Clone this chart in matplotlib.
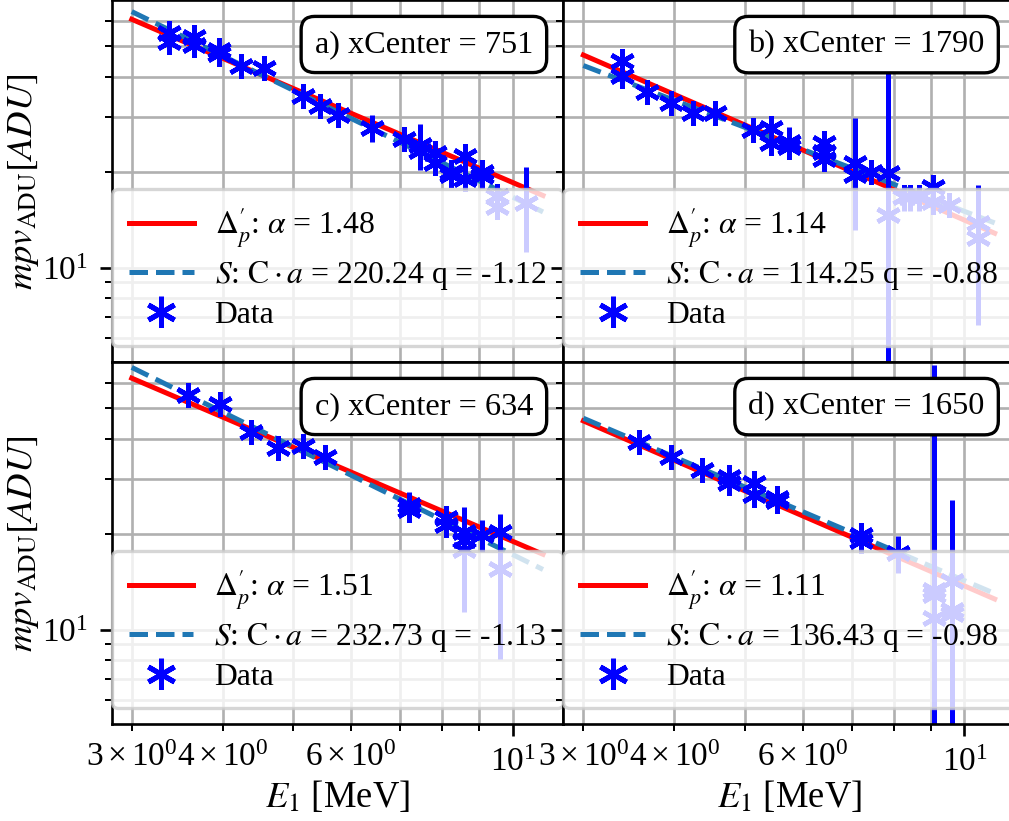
import matplotlib
matplotlib.use("Agg")
import matplotlib.pyplot as plt

plt.rcParams.update({
    "font.family": "serif",
    "font.serif": ["Liberation Serif", "DejaVu Serif"],
    "mathtext.fontset": "stix",
    "font.size": 10,
})

# ---------------- data ----------------
panel_titles = ["a) xCenter = 751", "b) xCenter = 1790", "c) xCenter = 634", "d) xCenter = 1650"]

alpha_labels = ["1.48", "1.14", "1.51", "1.11"]
ca_labels = ["220.24", "114.25", "232.73", "136.43"]
q_labels = ["-1.12", "-0.88", "-1.13", "-0.98"]

fit_x = [3.0, 11.0]
delta_a = [60.8, 16.9]
delta_b = [46.9, 12.85]
delta_c = [62.2, 17.3]
delta_d = [45.6, 12.5]
s_a = [64.3, 15.0]
s_b = [43.45, 13.85]
s_c = [67.25, 15.49]
s_d = [46.49, 13.01]

xa = [3.37, 3.37, 3.65, 3.65, 3.95, 3.95, 4.24, 4.55, 5.15, 5.44, 5.76, 6.40, 7.10, 7.46, 7.46,
      7.82, 7.82, 8.23, 8.23, 8.61, 8.61, 9.06, 9.06, 9.50, 9.50, 10.43]
ya = [54.9, 51.6, 53.5, 50.4, 48.6, 47.1, 43.3, 42.8, 34.8, 32.4, 30.3, 27.6, 25.4, 24.4, 23.3,
      23.0, 21.4, 20.1, 19.6, 22.5, 19.1, 20.0, 19.5, 16.8, 15.6, 16.0]
ea = [0.6, 0.6, 0.6, 0.6, 0.6, 0.6, 0.5, 0.5, 0.5, 0.5, 0.5, 2.7, 0.4, 4.0, 0.5,
      0.5, 0.4, 0.4, 0.4, 0.4, 0.4, 0.4, 0.4, 0.4, 0.4, 4.8]

xb = [3.39, 3.39, 3.67, 3.96, 4.24, 4.54, 5.12, 5.43, 5.43, 5.75, 5.75, 6.41, 6.41, 6.41, 7.08,
      7.08, 7.45, 7.85, 7.85, 8.25, 8.42, 8.65, 9.05, 9.05, 9.51, 10.43, 10.43]
yb = [44.9, 40.2, 35.9, 33.0, 30.7, 30.7, 27.2, 27.5, 24.8, 25.0, 24.1, 24.7, 23.2, 22.1, 21.4,
      19.6, 20.1, 19.9, 14.7, 16.7, 16.7, 16.7, 18.0, 16.1, 15.8, 13.8, 12.4]
eb = [0.6, 0.6, 0.6, 0.5, 0.5, 0.5, 0.5, 0.5, 0.5, 2.9, 0.5, 0.5, 2.8, 0.5, 8.2,
      0.5, 0.5, 25.0, 0.5, 1.6, 1.6, 1.6, 1.0, 0.5, 0.5, 0.5, 5.8]

xc = [3.58, 3.96, 4.37, 4.76, 5.15, 5.53, 7.20, 7.20, 8.10, 8.10, 8.58, 8.58, 8.58, 9.08, 9.60, 9.60]
yc = [55.1, 51.5, 42.2, 37.4, 37.9, 35.0, 24.8, 23.9, 22.5, 21.4, 20.4, 19.2, 17.9, 19.9, 20.4, 15.5]
ec = [0.6, 0.6, 0.5, 0.5, 0.5, 0.5, 2.4, 0.5, 0.5, 0.5, 0.5, 0.5, 6.5, 2.3, 2.8, 7.4]

xd = [3.58, 3.96, 4.36, 4.75, 4.75, 5.15, 5.15, 5.53, 5.53, 7.20, 7.20, 8.10, 9.09, 9.09, 9.09,
      9.61, 9.61, 9.61]
yd = [39.1, 35.0, 32.0, 30.4, 29.0, 29.0, 26.7, 26.0, 25.4, 19.9, 19.0, 17.4, 13.3, 12.9, 10.9,
      14.2, 11.5, 11.2]
ed = [0.5, 0.5, 0.5, 0.5, 0.5, 0.5, 0.5, 0.5, 0.5, 0.5, 0.5, 2.3, 55.0, 0.5, 0.5,
      0.5, 14.2, 0.5]

data = [(xa, ya, ea, delta_a, s_a), (xb, yb, eb, delta_b, s_b),
        (xc, yc, ec, delta_c, s_c), (xd, yd, ed, delta_d, s_d)]

# ---------------- figure ----------------
W, H, DPI = 1009, 821, 240
fig, axes = plt.subplots(2, 2, sharex=True, sharey=True, figsize=(W / DPI, H / DPI), dpi=DPI)
fig.subplots_adjust(left=111.7 / W, right=1015 / W, top=1 - 0.3 / H, bottom=1 - 724.3 / H,
                    wspace=0, hspace=0)

for i, ax in enumerate(axes.flat):
    x, y, e, dl, sl = data[i]
    ax.set_xscale("log")
    ax.set_yscale("log")
    l1, = ax.plot(fit_x, dl, color="red", lw=1.5)
    l2, = ax.plot(fit_x, sl, color="#1f77b4", ls="--", lw=1.5)
    ax.errorbar(x, y, yerr=e, fmt="none", ecolor="blue", elinewidth=1.5)
    ax.plot(x, y, ls="none", marker=(6, 2, 0), ms=7.5, mew=1.4, color="blue")
    data_handle = ax.errorbar([float("nan")], [float("nan")], yerr=[0.0], ls="none",
                              marker=(6, 2, 0), ms=9, mew=1.5, color="blue", elinewidth=1.5)
    ax.legend([l1, l2, data_handle],
              [r"$\Delta_p'$: $\alpha$ = " + alpha_labels[i],
               r"$S$: $\mathrm{C}\cdot a$ = " + ca_labels[i] + " q = " + q_labels[i],
               "Data"],
              loc="lower center", fontsize=9.5, borderpad=0.53, handlelength=2.05,
              handletextpad=0.66, labelspacing=0.28)
    ax.text(0.933, 0.918, panel_titles[i], transform=ax.transAxes, ha="right", va="top",
            fontsize=9.7,
            bbox=dict(boxstyle="round,pad=0.42", facecolor="white", edgecolor="black"))
    ax.grid(True, which="both")
    ax.set_xlim(2.816, 11.73)
    ax.set_ylim(5.03, 69.8)

for ax in axes[:, 0]:
    ax.set_ylabel(r"$mpv_{\mathrm{ADU}}[ADU]$", fontsize=11)
    ax.yaxis.set_label_coords(-0.157, 0.5)
for ax in axes[1, :]:
    ax.set_xlabel(r"$E_1$ [MeV]", fontsize=11)
    ax.xaxis.set_label_coords(0.5, -0.15)

fig.savefig("out.png", dpi=DPI)
